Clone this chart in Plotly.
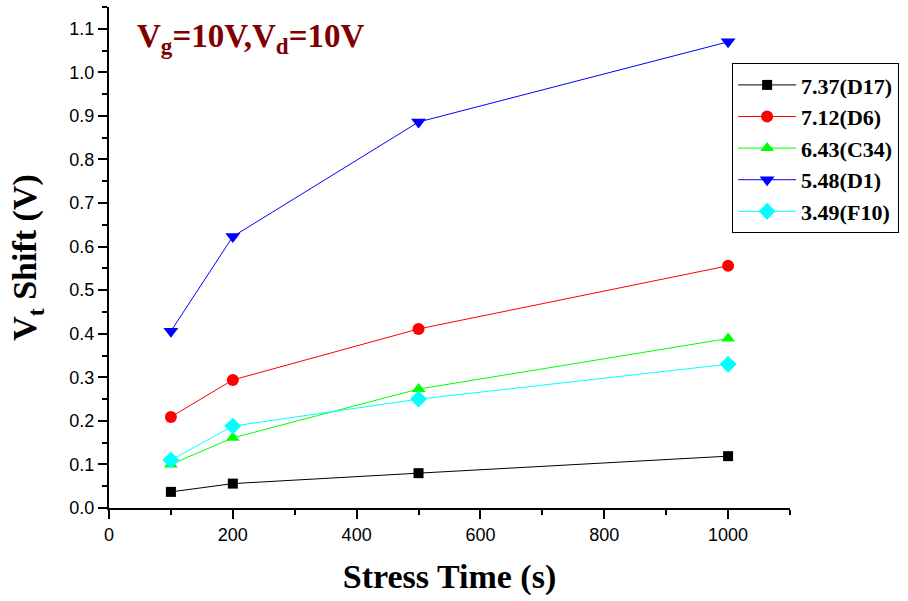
import plotly.graph_objects as go

stress_time = [100, 200, 500, 1000]
d17 = [0.037, 0.056, 0.080, 0.119]
d6 = [0.209, 0.294, 0.411, 0.556]
c34 = [0.100, 0.161, 0.273, 0.389]
d1 = [0.406, 0.623, 0.886, 1.070]
f10 = [0.110, 0.188, 0.250, 0.330]

series_names = ["7.37(D17)", "7.12(D6)", "6.43(C34)", "5.48(D1)", "3.49(F10)"]
series_vals = [d17, d6, c34, d1, f10]
colors = ["#000000", "#FF0000", "#00FF00", "#0000FF", "#00FFFF"]
symbols = ["square", "circle", "triangle-up", "triangle-down", "diamond"]
sizes = [10, 12, 12, 13, 13]

serif = "Liberation Serif"
sans = "Liberation Sans"

fig = go.Figure()
for name, vals, c, s, sz in zip(series_names, series_vals, colors, symbols, sizes):
    fig.add_trace(go.Scatter(
        x=stress_time, y=vals, name=name, mode="lines+markers",
        line=dict(color=c, width=1),
        marker=dict(symbol=s, size=sz, color=c, line=dict(width=0)),
    ))

fig.update_layout(
    width=908, height=601,
    margin=dict(l=109, r=118, t=7, b=93, autoexpand=False),
    paper_bgcolor="white", plot_bgcolor="white",
    showlegend=True,
    legend=dict(
        x=0.915, xanchor="left", y=0.888, yanchor="top",
        bgcolor="white", bordercolor="black", borderwidth=1,
        font=dict(family=serif, size=22, color="black", weight="bold"),
        itemwidth=58,
        itemsizing="trace",
    ),
    font=dict(family=sans, color="black"),
)

fig.update_xaxes(
    range=[0, 1100], dtick=200, tick0=0,
    showgrid=False, zeroline=False,
    showline=True, linecolor="black", linewidth=2,
    ticks="outside", ticklen=9, tickwidth=2, tickcolor="black",
    minor=dict(dtick=100, ticklen=5, tickwidth=2, tickcolor="black", ticks="outside"),
    tickfont=dict(family=sans, size=18, color="black"),
    title=dict(text="Stress Time (s)", standoff=21,
               font=dict(family=serif, size=34, color="black", weight="bold")),
)
fig.update_yaxes(
    range=[0, 1.15], dtick=0.1, tick0=0, tickformat=".1f",
    showgrid=False, zeroline=False,
    showline=True, linecolor="black", linewidth=2,
    ticks="outside", ticklen=9, tickwidth=2, tickcolor="black",
    minor=dict(dtick=0.05, ticklen=5, tickwidth=2, tickcolor="black", ticks="outside"),
    tickfont=dict(family=sans, size=18, color="black"),
    title=dict(text="V<sub>t</sub> Shift (V)", standoff=22,
               font=dict(family=serif, size=34, color="black", weight="bold")),
)

fig.add_annotation(
    xref="paper", yref="paper", x=0.038, y=0.982,
    xanchor="left", yanchor="top", showarrow=False,
    text="V<sub>g</sub>=10V,V<sub>d</sub>=10V",
    font=dict(family=serif, size=33, color="#800000", weight="bold"),
)

fig.write_html("out.html")
